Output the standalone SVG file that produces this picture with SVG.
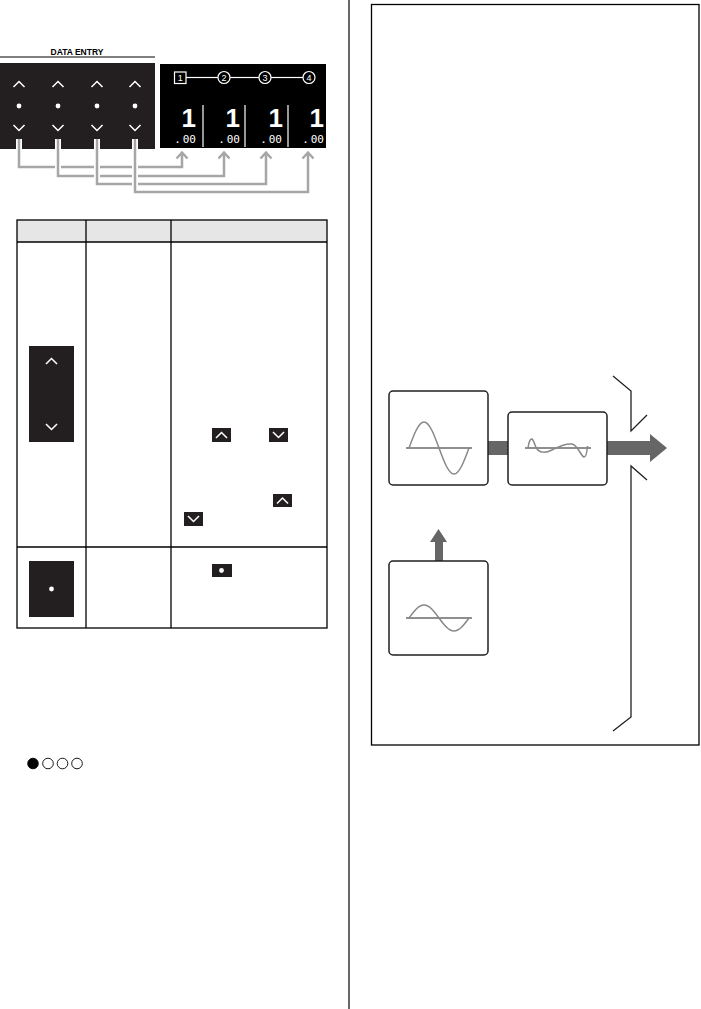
<svg xmlns="http://www.w3.org/2000/svg" width="701" height="1009" viewBox="0 0 701 1009">
<defs>
<style>
.chev{fill:none;stroke:#fff;stroke-width:1.5;stroke-linecap:square;stroke-linejoin:miter}
.dk{fill:#231f20}
.gl{fill:none;stroke:#a6a6a6;stroke-width:2.5;stroke-linejoin:miter}
.gw{fill:none;stroke:#fff;stroke-width:6}
.tb{fill:none;stroke:#000;stroke-width:1.3}
.box{fill:#fff;stroke:#231f20;stroke-width:1.5}
.ax{stroke:#231f20;stroke-width:1.2}
.wave{fill:none;stroke:#888;stroke-width:1.5}
.ga{fill:#666}
.big{font-family:"Liberation Sans",Arial,sans-serif;font-weight:bold;font-size:26px;fill:#fff}
.sm{font-family:"DejaVu Sans Mono",monospace;font-size:11px;fill:#fff}
.ci{font-family:"Liberation Sans",Arial,sans-serif;font-size:9px;fill:#fff;text-anchor:middle}
</style>
<g id="up"><path class="chev" d="M-5,2.5 L0,-2.5 L5,2.5"/></g>
<g id="dn"><path class="chev" d="M-5,-2.5 L0,2.5 L5,-2.5"/></g>
<g id="dot"><circle r="2.4" fill="#fff"/></g>
</defs>
<rect width="701" height="1009" fill="#fff"/>

<!-- page divider -->
<line x1="349" y1="0" x2="349" y2="1009" stroke="#000" stroke-width="1.2"/>

<!-- DATA ENTRY panel -->
<g id="data-entry">
<text x="77" y="55" text-anchor="middle" font-family="Liberation Sans,Arial,sans-serif" font-weight="bold" font-size="8.5">DATA ENTRY</text>
<line x1="0" y1="57" x2="155" y2="57" stroke="#000" stroke-width="1"/>
<rect class="dk" x="0" y="63" width="155" height="86"/>
<use href="#up" x="19" y="84"/><use href="#up" x="58" y="84"/><use href="#up" x="97" y="84"/><use href="#up" x="135" y="84"/>
<use href="#dot" x="19" y="106"/><use href="#dot" x="58" y="106"/><use href="#dot" x="97" y="106"/><use href="#dot" x="135" y="106"/>
<use href="#dn" x="19" y="128"/><use href="#dn" x="58" y="128"/><use href="#dn" x="97" y="128"/><use href="#dn" x="135" y="128"/>
</g>

<!-- display panel -->
<g id="display">
<rect x="160" y="64" width="166" height="84" fill="#000"/>
<g stroke="#fff" stroke-width="1.2" fill="none">
<line x1="186" y1="77.5" x2="218" y2="77.5"/>
<line x1="230" y1="77.5" x2="259" y2="77.5"/>
<line x1="271" y1="77.5" x2="303" y2="77.5"/>
<rect x="174.5" y="72" width="11.5" height="11.5"/>
<circle cx="224" cy="77.5" r="6"/>
<circle cx="265" cy="77.5" r="6"/>
<circle cx="309" cy="77.5" r="6"/>
<line x1="203" y1="105" x2="203" y2="147"/>
<line x1="245" y1="105" x2="245" y2="147"/>
<line x1="288" y1="105" x2="288" y2="147"/>
</g>
<text class="ci" x="180.3" y="81">1</text>
<text class="ci" x="224" y="81">2</text>
<text class="ci" x="265" y="81">3</text>
<text class="ci" x="309" y="81">4</text>
<text class="big" x="196" y="126.5" text-anchor="end">1</text>
<text class="big" x="240" y="126.5" text-anchor="end">1</text>
<text class="big" x="283" y="126.5" text-anchor="end">1</text>
<text class="big" x="324" y="126.5" text-anchor="end">1</text>
<text class="sm" x="196" y="142.5" text-anchor="end">.<tspan dx="2">00</tspan></text>
<text class="sm" x="240" y="142.5" text-anchor="end">.<tspan dx="2">00</tspan></text>
<text class="sm" x="282" y="142.5" text-anchor="end">.<tspan dx="2">00</tspan></text>
<text class="sm" x="324" y="142.5" text-anchor="end">.<tspan dx="2">00</tspan></text>
</g>

<!-- connectors -->
<g id="connectors">
<path class="gw" d="M19,139 V167 H182 V154"/>
<path class="gl" d="M19,139 V167 H182 V154 M176.5,158.5 L182,152.5 L187.5,158.5"/>
<path class="gw" d="M58,139 V176 H224 V154"/>
<path class="gl" d="M58,139 V176 H224 V154 M218.5,158.5 L224,152.5 L229.5,158.5"/>
<path class="gw" d="M97,139 V184 H266 V154"/>
<path class="gl" d="M97,139 V184 H266 V154 M260.5,158.5 L266,152.5 L271.5,158.5"/>
<path class="gw" d="M135,139 V192 H308 V154"/>
<path class="gl" d="M135,139 V192 H308 V154 M302.5,158.5 L308,152.5 L313.5,158.5"/>
</g>

<!-- table -->
<g id="table">
<rect x="17" y="220" width="310" height="22" fill="#e6e6e6"/>
<rect class="tb" x="17" y="220" width="310" height="408"/>
<line class="tb" x1="86" y1="220" x2="86" y2="628"/>
<line class="tb" x1="171" y1="220" x2="171" y2="628"/>
<line class="tb" x1="17" y1="242" x2="327" y2="242"/>
<line class="tb" x1="17" y1="547" x2="327" y2="547"/>
<rect class="dk" x="29" y="346" width="45" height="96"/>
<use href="#up" x="51.5" y="361"/>
<use href="#dn" x="51.5" y="427"/>
<rect class="dk" x="212" y="428" width="19" height="14"/>
<use href="#up" x="221.5" y="435"/>
<rect class="dk" x="269" y="428" width="19" height="14"/>
<use href="#dn" x="278.5" y="435"/>
<rect class="dk" x="273" y="494" width="19" height="13"/>
<use href="#up" x="282.5" y="500.5"/>
<rect class="dk" x="184" y="512" width="19" height="14"/>
<use href="#dn" x="193.5" y="519"/>
<rect class="dk" x="29" y="561" width="45" height="56"/>
<use href="#dot" x="51.5" y="589"/>
<rect class="dk" x="212" y="564" width="20" height="13"/>
<use href="#dot" x="221.5" y="570.5"/>
</g>

<!-- circles indicator -->
<g id="indicator" stroke="#000" stroke-width="0.9">
<circle cx="33" cy="763.5" r="5.3" fill="#000"/>
<circle cx="48" cy="763.5" r="5.3" fill="none"/>
<circle cx="62.5" cy="763.5" r="5.3" fill="none"/>
<circle cx="77" cy="763.5" r="5.3" fill="none"/>
</g>

<!-- right frame -->
<rect x="371.5" y="4.5" width="327.5" height="740.5" fill="none" stroke="#000" stroke-width="1.3"/>

<!-- signal diagram -->
<g id="flow-arrows">
<rect class="ga" x="487" y="441" width="22" height="14"/>
<path class="ga" d="M606,441 H650 V434 L667,448 L650,462 V455 H606Z"/>
<path class="ga" d="M435,562 V542 H430 L438.5,529 L447,542 H443 V562Z"/>
</g>
<g id="box-osc1">
<rect class="box" x="389" y="391" width="99" height="94" rx="4"/>
<line class="ax" x1="406" y1="448" x2="472" y2="448"/>
<path class="wave" d="M409,448 C413.9,434.7 418.6,422 424,422 C429.4,422 434.1,434.7 439,448 C443.9,461.3 448.6,474 454,474 C459.4,474 464.1,461.3 469,448"/>
</g>
<g id="box-filter">
<rect class="box" x="508" y="412" width="99" height="73" rx="4"/>
<line class="ax" x1="525" y1="448" x2="591" y2="448"/>
<path class="wave" d="M528,448 C529,441 530.5,438.5 532,439 C534,440 535,447 537,449 C540,453 546,453 552,450 C558,447 565,443 572,444 C578,445 581,456.5 584,457 C586,457 587,452 587.5,446"/>
</g>
<g id="box-osc2">
<rect class="box" x="389" y="561" width="99" height="94" rx="4"/>
<line class="ax" x1="406" y1="618" x2="472" y2="618"/>
<path class="wave" d="M409,618 C413.9,611.3 418.6,605 424,605 C429.4,605 434.1,611.3 439,618 C443.9,624.7 448.6,631 454,631 C459.4,631 464.1,624.7 469,618"/>
</g>
<g id="barrier" fill="none" stroke="#231f20" stroke-width="1.3">
<polyline points="613,376 631,391 631,431 647,415"/>
<polyline points="647,480 631,466 631,717 613,731"/>
</g>
</svg>
